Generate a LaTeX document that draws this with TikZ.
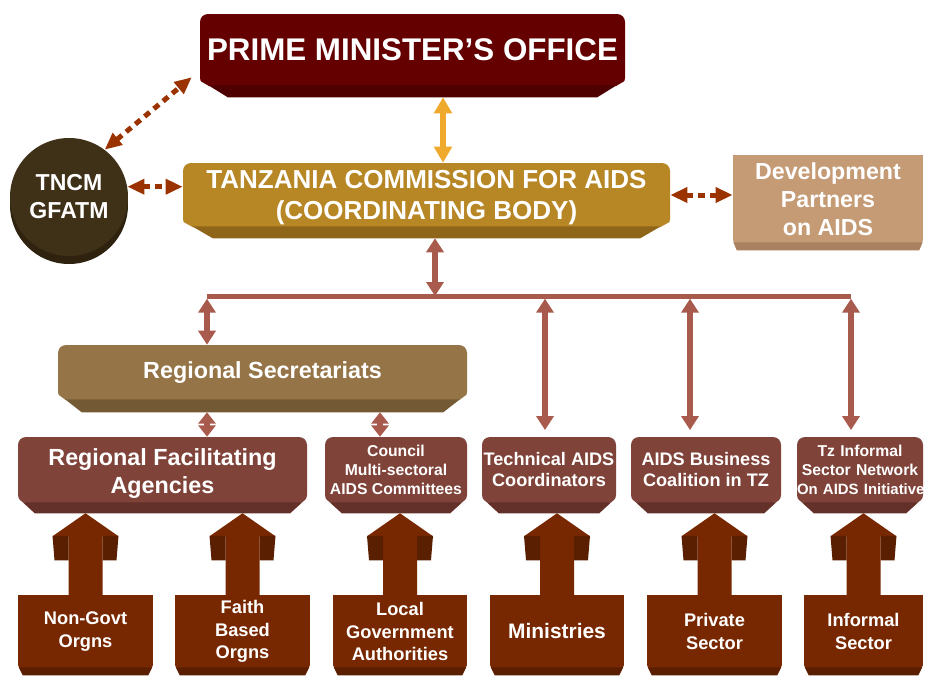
\documentclass[tikz,border=0pt]{standalone}
\usepackage{fontspec}
\setmainfont{Liberation Sans}
\usetikzlibrary{arrows.meta,calc}

\definecolor{pmored}{HTML}{640000}
\definecolor{pmodark}{HTML}{4E0000}
\definecolor{tacgold}{HTML}{B78625}
\definecolor{tacdark}{HTML}{8F6519}
\definecolor{tncbrown}{HTML}{3F3018}
\definecolor{tncdark}{HTML}{2F230F}
\definecolor{devtan}{HTML}{C59B75}
\definecolor{devdark}{HTML}{A98060}
\definecolor{rsbrown}{HTML}{957548}
\definecolor{rsdark}{HTML}{735A35}
\definecolor{agency}{HTML}{7F4339}
\definecolor{agencydark}{HTML}{63302A}
\definecolor{sector}{HTML}{782800}
\definecolor{sectordark}{HTML}{5A1E00}
\definecolor{linkred}{HTML}{A85A4C}
\definecolor{linkrust}{HTML}{9B3300}
\definecolor{linkorange}{HTML}{EFAA2E}

\tikzstyle{orgbox}=[text=white, align=center, inner sep=0pt, rounded corners=6pt]
\tikzstyle{agencybox}=[orgbox, fill=agency, minimum height=49.5pt]
\tikzstyle{sectorbox}=[orgbox, sharp corners, fill=sector, minimum height=54.75pt,
    font=\bfseries\fontsize{13.7}{16.75}\selectfont]
\tikzstyle{busline}=[draw=linkred, line width=3.75pt]
\tikzstyle{buslink}=[draw=linkred, line width=4.5pt,
    {Triangle[length=10.5pt,width=12.75pt]}-{Triangle[length=10.5pt,width=12.75pt]}]
\tikzstyle{shortlink}=[draw=linkred, line width=4.5pt,
    {Triangle[length=8.5pt,width=12.75pt]}-{Triangle[length=8.5pt,width=12.75pt]}]
\tikzstyle{pmlink}=[draw=linkorange, line width=5pt,
    {Triangle[length=12pt,width=13pt]}-{Triangle[length=12pt,width=13pt]}]
\tikzstyle{dotlink}=[draw=linkrust, line width=3.75pt, dash pattern=on 5pt off 4pt,
    {Triangle[length=12.75pt,width=11pt]}-{Triangle[length=12.75pt,width=11pt]}]

% darker chamfered strip under a box
\newcommand{\bevel}[4]{%
  \fill[white] (#1.south west) -- ++(0,{-#3/2}) -- ++({#4/3},{#3/2}) -- cycle;
  \fill[white] (#1.south east) -- ++(0,{-#3/2}) -- ++({-#4/3},{#3/2}) -- cycle;
  \fill[#2] ([shift={({#4/3-0.7},-1)}]#1.south west) -- ([shift={({-#4/3+0.7},-1)}]#1.south east)
    -- ([shift={(-#4,#3)}]#1.south east) -- ([shift={(#4,#3)}]#1.south west) -- cycle;}

% block arrow from a sector box up to the box it feeds
\newcommand{\sectorarrow}[2]{%
  \coordinate (tip) at ($(#1.north |- #2.south)+(0,10)$);
  \fill[sector] (tip) -- ++(33,23) -- ++(-16,0) -- ($(#1.north)+(17,1)$)
    -- ($(#1.north)+(-17,1)$) -- ($(tip)+(-17,23)$) -- ++(-16,0) -- cycle;
  \fill[sectordark] ($(tip)+(17,22.5)$) -- ++(16,0) -- ++(-2,24.5) -- ++(-14,0) -- cycle;
  \fill[sectordark] ($(tip)+(-17,22.5)$) -- ++(-16,0) -- ++(2,24.5) -- ++(14,0) -- cycle;}

\begin{document}
\begin{tikzpicture}[x=0.75pt, y=-0.75pt]
  \useasboundingbox (0,0) rectangle (925,675);

  % top level
  \node[orgbox, fill=pmored, minimum width=318.75pt, minimum height=54pt,
        font=\bfseries\fontsize{23.5}{28}\selectfont] (pmo) at (412.5,50)
        {PRIME MINISTER’S OFFICE};
  \bevel{pmo}{pmodark}{11}{28}

  \node[orgbox, fill=tacgold, minimum width=365.25pt, minimum height=48pt,
        font=\bfseries\fontsize{19.5}{23.5}\selectfont] (tacaids) at (426.5,195)
        {\rule{0pt}{18pt}TANZANIA COMMISSION FOR AIDS\\(COORDINATING BODY)};
  \bevel{tacaids}{tacdark}{11}{30}

  \fill[tncdark] (69,205) circle[radius=44.25pt];
  \node[circle, fill=tncbrown, text=white, minimum size=88.5pt, inner sep=0pt,
        align=center, font=\bfseries\fontsize{17.3}{21}\selectfont] (tnc) at (69,197)
        {TNCM\\GFATM};

  \node[orgbox, sharp corners, fill=devtan, minimum width=142.5pt, minimum height=66pt,
        font=\bfseries\fontsize{17.4}{21}\selectfont] (dev) at (828,199)
        {Development\\Partners\\on AIDS};
  \bevel{dev}{devdark}{7}{4}

  % middle level
  \node[orgbox, fill=rsbrown, minimum width=306.75pt, minimum height=41.25pt,
        font=\bfseries\fontsize{17.5}{21}\selectfont] (rs) at (262.5,372.5)
        {Regional Secretariats};
  \bevel{rs}{rsdark}{12}{24}

  \node[agencybox, minimum width=216.75pt, font=\bfseries\fontsize{17.5}{21}\selectfont]
        (rfa) at (162.5,470) {\rule{0pt}{18.5pt}Regional Facilitating\\Agencies};
  \node[agencybox, minimum width=106.5pt, font=\bfseries\fontsize{11.8}{14.25}\selectfont]
        (cmac) at (396,470) {Council\\Multi-sectoral\\AIDS Committees};
  \node[agencybox, minimum width=100.5pt, font=\bfseries\fontsize{13.6}{15.75}\selectfont]
        (tac) at (549,470) {Technical AIDS\\Coordinators};
  \node[agencybox, minimum width=112.5pt, font=\bfseries\fontsize{13.6}{15.75}\selectfont]
        (abc) at (706,470) {AIDS Business\\Coalition in TZ};
  \node[agencybox, text width=94.5pt, font=\bfseries\fontsize{11.8}{14.25}\selectfont]
        (tzin) at (860,470)
        {Tz Informal\\Sector Network\\\mbox{\fontsize{11.2}{14.25}\selectfont On AIDS Initiative}};
  \foreach \n in {rfa,cmac,tac,abc,tzin}
      \bevel{\n}{agencydark}{10}{17};

  % sectors
  \foreach \n/\cx/\w/\txt in {ngo/85.5/101.25/{Non-Govt\\Orgns},
                              fbo/242.5/101.25/{Faith\\Based\\Orgns},
                              lga/400/100.5/{Local\\Government\\Authorities},
                              ministries/557/100.5/{\fontsize{15.7}{19}\selectfont Ministries},
                              priv/714.5/101.25/{Private\\Sector},
                              inf/863.5/89.25/{Informal\\Sector}}
  {
      \node[sectorbox, minimum width=\w pt] (\n) at (\cx,631.5) {\txt};
      \bevel{\n}{sectordark}{7}{5}
  }
  \foreach \a/\b in {ngo/rfa, fbo/rfa, lga/cmac, ministries/tac, priv/abc, inf/tzin}
      \sectorarrow{\a}{\b};

  % links
  \coordinate (busL) at (207,296);
  \coordinate (busR) at (851,296);
  \draw[busline] (busL) -- (busR);

  \coordinate (pmo-b) at ($(pmo.south)+(30.5,11)$);
  \draw[pmlink] (pmo-b) -- (pmo-b |- tacaids.north);

  \coordinate (tacaids-b) at ($(tacaids.south)+(8.5,11)$);
  \draw[buslink] (tacaids-b) -- (tacaids-b |- busL);

  \draw[buslink, shorten <=2pt] (busL) -- (busL |- rs.north);
  \foreach \x/\n in {545/tac, 690/abc, 851/tzin}
  {
      \coordinate (tap-\n) at (\x,296);
      \draw[buslink, shorten <=2pt, shorten >=5pt] (tap-\n) -- (tap-\n |- \n.north);
  }

  \coordinate (rs-b) at ($(rs.south)+(0,12)$);
  \coordinate (cmac-t) at ([xshift=-12pt]cmac.north);
  \draw[shortlink] (rs-b -| busL) -- (busL |- rfa.north);
  \draw[shortlink] (rs-b -| cmac-t) -- (cmac-t);

  \draw[dotlink] (tnc.53) -- ([shift={(-8,-9)}]pmo.south west);
  \draw[dotlink] (tnc.10) -- (tnc.10 -| tacaids.west);
  \draw[dotlink] (tacaids.east) -- (tacaids.east -| dev.west);
\end{tikzpicture}
\end{document}
